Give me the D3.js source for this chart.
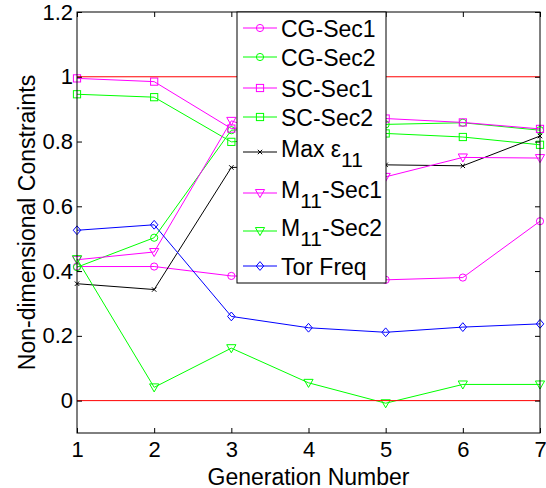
<!DOCTYPE html>
<html>
<head>
<meta charset="utf-8">
<script src="https://cdn.jsdelivr.net/npm/d3@7"></script>
<style>
  html, body { margin: 0; padding: 0; background: #fff; }
  svg { display: block; }
  text { font-family: "Liberation Sans", Arial, Helvetica, sans-serif; fill: #000; }
</style>
</head>
<body>
<svg id="chart" width="546" height="488"></svg>
<script>
// ---------------- data ----------------
const generations = [1, 2, 3, 4, 5, 6, 7];
const cgSec1   = [0.414, 0.414, 0.385, 0.380, 0.373, 0.380, 0.554];
const cgSec2   = [0.412, 0.503, 0.835, 0.850, 0.853, 0.858, 0.835];
const scSec1   = [0.995, 0.985, 0.840, 0.860, 0.871, 0.859, 0.839];
const scSec2   = [0.946, 0.937, 0.799, 0.815, 0.825, 0.814, 0.790];
const maxEps11 = [0.361, 0.343, 0.720, 0.725, 0.728, 0.725, 0.817];
const m11Sec1  = [0.435, 0.459, 0.864, 0.780, 0.691, 0.751, 0.749];
const m11Sec2  = [0.437, 0.041, 0.162, 0.055, -0.008, 0.050, 0.050];
const torFreq  = [0.526, 0.543, 0.260, 0.225, 0.211, 0.227, 0.237];
const limitLines = [0, 1];
const xTicks = [1, 2, 3, 4, 5, 6, 7];
const yTicks = [0, 0.2, 0.4, 0.6, 0.8, 1, 1.2];
const yTickLabels = ["0", "0.2", "0.4", "0.6", "0.8", "1", "1.2"];

const series = [
  { name: ["CG-Sec1"], values: cgSec1, color: "#ff00ff", marker: "circle" },
  { name: ["CG-Sec2"], values: cgSec2, color: "#00ff00", marker: "circle" },
  { name: ["SC-Sec1"], values: scSec1, color: "#ff00ff", marker: "square" },
  { name: ["SC-Sec2"], values: scSec2, color: "#00ff00", marker: "square" },
  { name: ["Max \u03b5", "11", ""], values: maxEps11, color: "#000000", marker: "x" },
  { name: ["M", "11", "-Sec1"], values: m11Sec1, color: "#ff00ff", marker: "triangle" },
  { name: ["M", "11", "-Sec2"], values: m11Sec2, color: "#00ff00", marker: "triangle" },
  { name: ["Tor Freq"], values: torFreq, color: "#0000ff", marker: "diamond" }
];

// ---------------- layout ----------------
const svg = d3.select("#chart");
const L = 77, R = 540, T = 12, B = 433;
const x = d3.scaleLinear().domain([1, 7]).range([L, R]);
const y = d3.scaleLinear().domain([-0.1, 1.2]).range([B, T]);
const TICK_FS = 22, LABEL_FS = 23;

function drawMarker(g, type, cx, cy, color) {
  if (type === "circle") {
    g.append("circle").attr("cx", cx).attr("cy", cy).attr("r", 3.6)
      .attr("fill", "none").attr("stroke", color).attr("stroke-width", 1);
  } else if (type === "square") {
    g.append("rect").attr("x", cx - 3.6).attr("y", cy - 3.6).attr("width", 7.2).attr("height", 7.2)
      .attr("fill", "none").attr("stroke", color).attr("stroke-width", 1);
  } else if (type === "triangle") {
    const s = 4.6;
    g.append("path").attr("d", `M${cx - s},${cy - s * 0.75}L${cx + s},${cy - s * 0.75}L${cx},${cy + s}Z`)
      .attr("fill", "none").attr("stroke", color).attr("stroke-width", 1);
  } else if (type === "diamond") {
    const s = 4.4;
    g.append("path").attr("d", `M${cx},${cy - s}L${cx + s * 0.85},${cy}L${cx},${cy + s}L${cx - s * 0.85},${cy}Z`)
      .attr("fill", "none").attr("stroke", color).attr("stroke-width", 1);
  } else if (type === "x") {
    const s = 2.2;
    g.append("path").attr("d", `M${cx - s},${cy - s}L${cx + s},${cy + s}M${cx - s},${cy + s}L${cx + s},${cy - s}`)
      .attr("fill", "none").attr("stroke", color).attr("stroke-width", 1);
  }
}

// plot background
svg.append("rect").attr("x", L).attr("y", T).attr("width", R - L).attr("height", B - T).attr("fill", "#fff");

// series
const line = d3.line().x((d, i) => x(generations[i])).y(d => y(d));
series.forEach(s => {
  const g = svg.append("g");
  g.append("path").datum(s.values).attr("d", line)
    .attr("fill", "none").attr("stroke", s.color).attr("stroke-width", 1);
  s.values.forEach((v, i) => drawMarker(g, s.marker, x(generations[i]), y(v), s.color));
});

// red limit lines
limitLines.forEach(v => {
  svg.append("line").attr("x1", L).attr("x2", R).attr("y1", y(v)).attr("y2", y(v))
    .attr("stroke", "#ff0000").attr("stroke-width", 1);
});

// axes
const axB = svg.append("g").attr("transform", `translate(0,${B})`)
  .call(d3.axisBottom(x).tickValues(xTicks).tickFormat(d3.format("d")).tickSizeInner(-5).tickSizeOuter(0).tickPadding(8.5));
const axT = svg.append("g").attr("transform", `translate(0,${T})`)
  .call(d3.axisTop(x).tickValues(xTicks).tickFormat("").tickSizeInner(-5).tickSizeOuter(0));
const axL = svg.append("g").attr("transform", `translate(${L},0)`)
  .call(d3.axisLeft(y).tickValues(yTicks).tickFormat((d, i) => yTickLabels[i]).tickSizeInner(-5).tickSizeOuter(0).tickPadding(4));
const axR = svg.append("g").attr("transform", `translate(${R},0)`)
  .call(d3.axisRight(y).tickValues(yTicks).tickFormat("").tickSizeInner(-5).tickSizeOuter(0));
[axB, axT, axL, axR].forEach(a => {
  a.select(".domain").remove();
  a.selectAll(".tick line").attr("stroke", "#000");
  a.selectAll("text").attr("font-size", TICK_FS).attr("font-family", "Liberation Sans, Arial, sans-serif").attr("fill", "#000");
});
svg.append("rect").attr("x", L).attr("y", T).attr("width", R - L).attr("height", B - T)
  .attr("fill", "none").attr("stroke", "#000").attr("stroke-width", 1);

// axis titles
svg.append("text").attr("x", (L + R) / 2).attr("y", 484.5).attr("text-anchor", "middle")
  .attr("font-size", LABEL_FS).text("Generation Number");
svg.append("text").attr("transform", `translate(35,${(T + B) / 2}) rotate(-90)`).attr("text-anchor", "middle")
  .attr("font-size", LABEL_FS).text("Non-dimensional Constraints");

// legend
const lg = svg.append("g");
lg.append("rect").attr("x", 237).attr("y", T).attr("width", 149).attr("height", 271)
  .attr("fill", "#fff").attr("stroke", "#000").attr("stroke-width", 1);
const rowY = [28, 57, 88, 117, 152, 193, 231, 266];
series.forEach((s, i) => {
  const yy = rowY[i];
  lg.append("line").attr("x1", 243).attr("x2", 277).attr("y1", yy).attr("y2", yy)
    .attr("stroke", s.color).attr("stroke-width", 1);
  drawMarker(lg, s.marker, 260, yy, s.color);
  const hasSub = s.name.length > 1;
  const t = lg.append("text").attr("x", 281).attr("y", yy + (hasSub ? 5 : 9)).attr("font-size", LABEL_FS);
  t.append("tspan").text(s.name[0]);
  if (hasSub) {
    t.append("tspan").attr("dy", 10).attr("font-size", 21).text(s.name[1]);
    if (s.name[2]) t.append("tspan").attr("dy", -10).text(s.name[2]);
  }
});
</script>
</body>
</html>
